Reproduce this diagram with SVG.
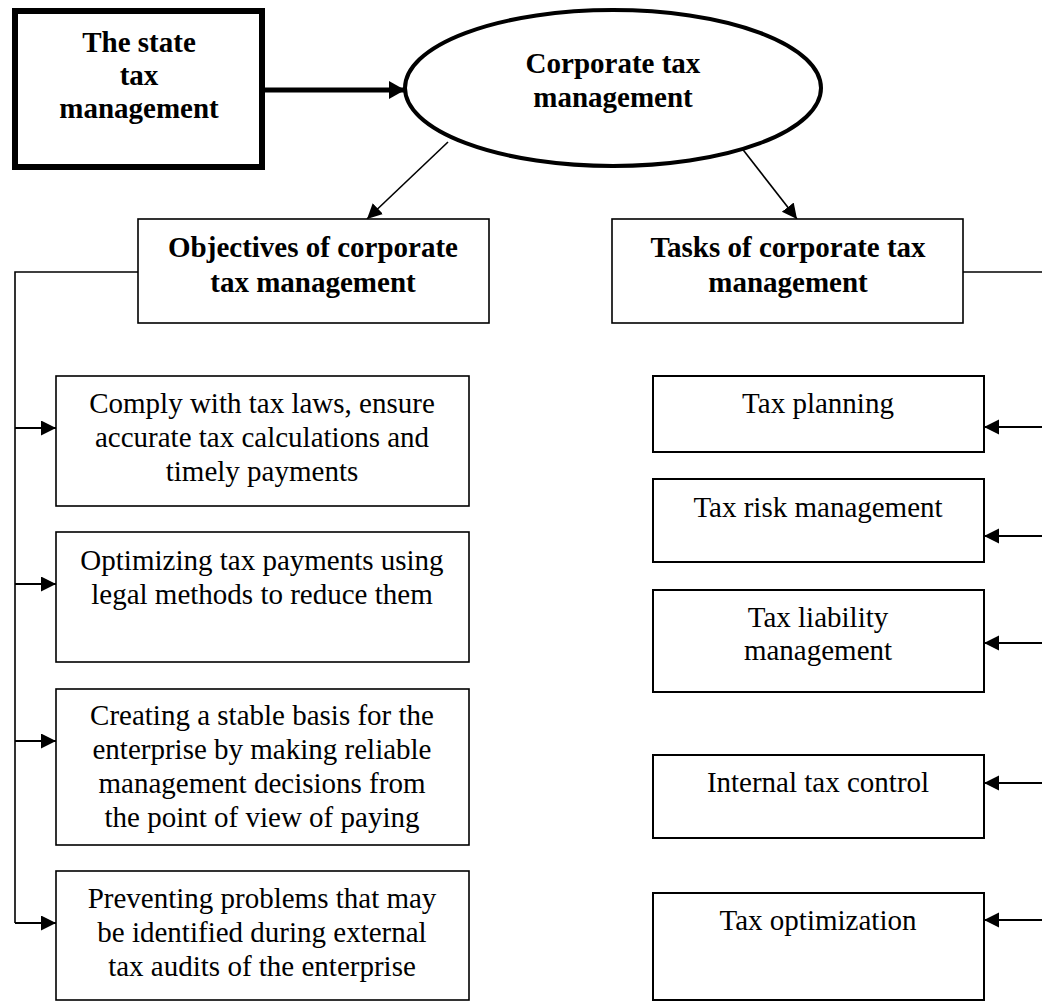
<svg xmlns="http://www.w3.org/2000/svg" width="1042" height="1001" viewBox="0 0 1042 1001">
<style>
text{font-family:"Liberation Serif","Times New Roman",serif;font-size:29px;fill:#000;text-anchor:middle}
.b{font-weight:bold}
.box{fill:#fff;stroke:#000;stroke-width:1.6}
.box2{fill:#fff;stroke:#000;stroke-width:2}
.ln{fill:none;stroke:#000;stroke-width:1.6}
.ar{fill:none;stroke:#000;stroke-width:2.2}
</style>
<defs>
<marker id="arr" markerUnits="userSpaceOnUse" markerWidth="16" markerHeight="16" refX="15" refY="7.5" orient="auto">
<path d="M0,0 L15,7.5 L0,15 z" fill="#000"/>
</marker>
<marker id="arrBig" markerUnits="userSpaceOnUse" markerWidth="18" markerHeight="20" refX="16" refY="9" orient="auto">
<path d="M0,0 L16,9 L0,18 z" fill="#000"/>
</marker>
</defs>
<g id="connectors">
<line x1="265" y1="90" x2="405" y2="90" stroke="#000" stroke-width="5" marker-end="url(#arrBig)"/>
<line class="ln" x1="448" y1="142" x2="367" y2="219" marker-end="url(#arr)"/>
<line class="ln" x1="737" y1="142" x2="797" y2="219" marker-end="url(#arr)"/>
<polyline class="ln" points="138,272 15,272 15,923"/>
<line class="ar" x1="15" y1="428" x2="56" y2="428" marker-end="url(#arr)"/>
<line class="ar" x1="15" y1="584" x2="56" y2="584" marker-end="url(#arr)"/>
<line class="ar" x1="15" y1="741" x2="56" y2="741" marker-end="url(#arr)"/>
<line class="ar" x1="15" y1="923" x2="56" y2="923" marker-end="url(#arr)"/>
<line class="ln" x1="963" y1="272" x2="1042" y2="272"/>
<line class="ar" x1="1042" y1="427" x2="984" y2="427" marker-end="url(#arr)"/>
<line class="ar" x1="1042" y1="536" x2="984" y2="536" marker-end="url(#arr)"/>
<line class="ar" x1="1042" y1="643" x2="984" y2="643" marker-end="url(#arr)"/>
<line class="ar" x1="1042" y1="783" x2="984" y2="783" marker-end="url(#arr)"/>
<line class="ar" x1="1042" y1="920" x2="984" y2="920" marker-end="url(#arr)"/>
</g>
<g id="state">
<rect x="15" y="11" width="247" height="156" fill="#fff" stroke="#000" stroke-width="6"/>
<text class="b" x="139" y="52">The state</text>
<text class="b" x="139" y="85">tax</text>
<text class="b" x="139" y="118">management</text>
</g>
<g id="corporate">
<ellipse cx="613" cy="88" rx="208" ry="78" fill="#fff" stroke="#000" stroke-width="4"/>
<text class="b" x="613" y="73">Corporate tax</text>
<text class="b" x="613" y="107">management</text>
</g>
<g id="objectives">
<rect class="box" x="138" y="219" width="351" height="104"/>
<text class="b" x="313" y="257">Objectives of corporate</text>
<text class="b" x="313" y="292">tax management</text>
</g>
<g id="tasks">
<rect class="box" x="612" y="219" width="351" height="104"/>
<text class="b" x="788" y="257">Tasks of corporate tax</text>
<text class="b" x="788" y="292">management</text>
</g>
<g id="obj1">
<rect class="box" x="56" y="376" width="413" height="130"/>
<text x="262" y="413">Comply with tax laws, ensure</text>
<text x="262" y="447">accurate tax calculations and</text>
<text x="262" y="481">timely payments</text>
</g>
<g id="obj2">
<rect class="box" x="56" y="532" width="413" height="130"/>
<text x="262" y="570">Optimizing tax payments using</text>
<text x="262" y="604">legal methods to reduce them</text>
</g>
<g id="obj3">
<rect class="box" x="56" y="689" width="413" height="156"/>
<text x="262" y="725">Creating a stable basis for the</text>
<text x="262" y="759">enterprise by making reliable</text>
<text x="262" y="793">management decisions from</text>
<text x="262" y="827">the point of view of paying</text>
</g>
<g id="obj4">
<rect class="box" x="56" y="871" width="413" height="129"/>
<text x="262" y="908">Preventing problems that may</text>
<text x="262" y="942">be identified during external</text>
<text x="262" y="976">tax audits of the enterprise</text>
</g>
<g id="task1">
<rect class="box2" x="653" y="376" width="331" height="76"/>
<text x="818" y="413">Tax planning</text>
</g>
<g id="task2">
<rect class="box2" x="653" y="479" width="331" height="83"/>
<text x="818" y="517">Tax risk management</text>
</g>
<g id="task3">
<rect class="box2" x="653" y="590" width="331" height="102"/>
<text x="818" y="627">Tax liability</text>
<text x="818" y="660">management</text>
</g>
<g id="task4">
<rect class="box2" x="653" y="755" width="331" height="83"/>
<text x="818" y="792">Internal tax control</text>
</g>
<g id="task5">
<rect class="box2" x="653" y="893" width="331" height="107"/>
<text x="818" y="930">Tax optimization</text>
</g>
</svg>
